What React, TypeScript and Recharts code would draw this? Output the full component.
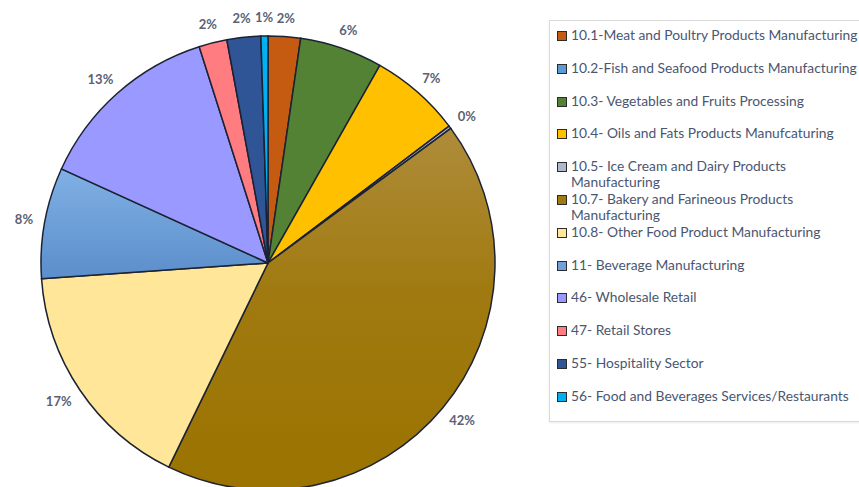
import React from 'react';
import { PieChart, Pie, Cell, Legend } from 'recharts';

// sector names in legend order
const NAMES = [
  '10.1-Meat and Poultry Products Manufacturing',
  '10.2-Fish and Seafood Products Manufacturing',
  '10.3- Vegetables and Fruits Processing',
  '10.4- Oils and Fats Products Manufcaturing',
  '10.5- Ice Cream and Dairy Products Manufacturing',
  '10.7- Bakery and Farineous Products Manufacturing',
  '10.8- Other Food Product Manufacturing',
  '11- Beverage Manufacturing',
  '46- Wholesale Retail',
  '47- Retail Stores',
  '55- Hospitality Sector',
  '56- Food and Beverages Services/Restaurants',
];

// share in percent
const SHARES = [2.3, 0, 5.9, 6.5, 0.2, 42.3, 16.7, 7.9, 13.3, 2.0, 2.4, 0.5];

const COLORS = [
  '#C55A11', '#5B9BD5', '#548235', '#FFC000', '#ADB9CA', 'url(#bakery)',
  '#FFE699', 'url(#beverage)', '#9999FF', '#FF7C80', '#2F5597', '#00B0F0',
];
const SWATCH = [
  '#C55A11', '#5B9BD5', '#548235', '#FFC000', '#ADB9CA', '#A07A10',
  '#FFE699', '#6FA0DA', '#9999FF', '#FF7C80', '#2F5597', '#00B0F0',
];

const data = NAMES.map((name, i) => ({ name, value: SHARES[i] }));

const RADIAN = Math.PI / 180;

const renderLabel = (props: any) => {
  const { cx, cy, midAngle, outerRadius, value, index } = props;
  if (!value) return null;
  const text = `${Math.round(value)}%`;
  const dx = Math.cos(-midAngle * RADIAN);
  const dy = Math.sin(-midAngle * RADIAN);
  const r = outerRadius + 12;
  const hw = text.length * 4.5;
  const x = cx + r * dx + dx * hw;
  const y = cy + r * dy + dy * 7;
  return (
    <text
      key={`lbl-${index}`}
      x={x}
      y={y}
      textAnchor="middle"
      dominantBaseline="central"
      fill="#5A6274"
      fontSize={13}
      fontWeight={700}
      fontFamily="Lato, sans-serif"
    >
      {text}
    </text>
  );
};

const LegendBox = () => (
  <div
    style={{
      border: '1px solid #DADADA',
      boxShadow: '0 1px 2px rgba(0,0,0,0.08)',
      width: 330,
      height: 402,
      boxSizing: 'border-box',
      position: 'relative',
      background: '#fff',
    }}
  >
    {NAMES.map((name, i) => (
      <div
        key={name}
        style={{
          position: 'absolute',
          left: 7,
          top: 6 + i * 32.8,
          display: 'flex',
          alignItems: 'flex-start',
        }}
      >
        <span
          style={{
            width: 8,
            height: 8,
            marginTop: 4,
            marginRight: 4,
            background: SWATCH[i],
            border: '1px solid #2B2B2B',
            flex: '0 0 auto',
          }}
        />
        <span
          style={{
            width: 296,
            fontFamily: 'Lato, sans-serif',
            fontSize: 13.8,
            lineHeight: '16px',
            color: '#4A5670',
            textAlign: 'left',
          }}
        >
          {name}
        </span>
      </div>
    ))}
  </div>
);

export default function App() {
  return (
    <div style={{ position: 'absolute', left: 0, top: 0, width: 859, height: 487, background: '#fff' }}>
      <PieChart width={859} height={487} margin={{ top: 0, right: 0, bottom: 0, left: 0 }}>
        <defs>
          <linearGradient id="bakery" x1="0" y1="0" x2="0" y2="1">
            <stop offset="0%" stopColor="#AE8C3A" />
            <stop offset="45%" stopColor="#A07A10" />
            <stop offset="100%" stopColor="#9A7300" />
          </linearGradient>
          <linearGradient id="beverage" x1="0" y1="0" x2="0" y2="1">
            <stop offset="0%" stopColor="#80B0E4" />
            <stop offset="100%" stopColor="#5B8ECB" />
          </linearGradient>
        </defs>
        <Pie
          data={data}
          dataKey="value"
          nameKey="name"
          cx={268}
          cy={263}
          outerRadius={227}
          startAngle={90}
          endAngle={-270}
          stroke="#1C2233"
          strokeWidth={1.5}
          label={renderLabel}
          labelLine={false}
          isAnimationActive={false}
        >
          {data.map((d, i) => (
            <Cell key={d.name} fill={COLORS[i]} />
          ))}
        </Pie>
        <Legend
          content={() => <LegendBox />}
          wrapperStyle={{ position: 'absolute', left: 549, top: 20, width: 330, height: 402 }}
        />
      </PieChart>
    </div>
  );
}
